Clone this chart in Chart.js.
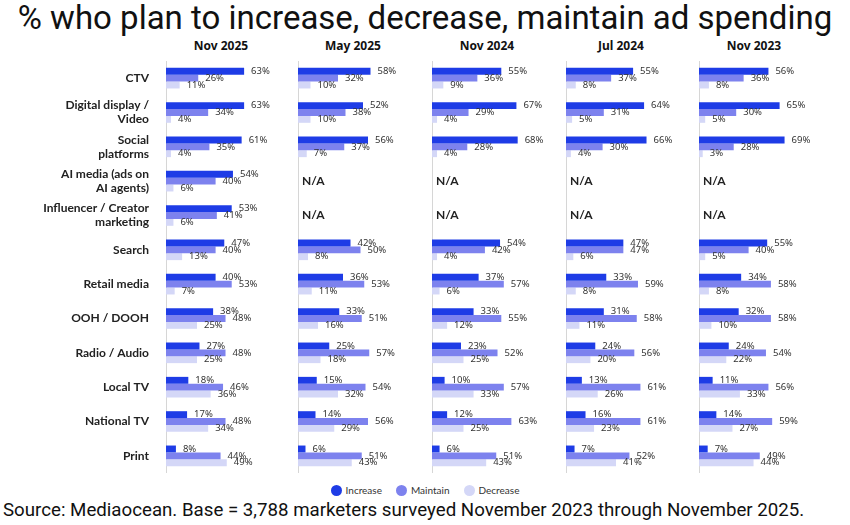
<!DOCTYPE html>
<html>
<head>
<meta charset="utf-8">
<script src="https://cdn.jsdelivr.net/npm/chart.js@4"></script>
<style>
  body { margin: 0; background: #fff; width: 850px; height: 525px; position: relative; overflow: hidden; font-family: 'Noto Sans', sans-serif; }
  #title { position: absolute; left: 0; top: 0px; width: 850px; text-align: center; font-family: Roboto, sans-serif; font-size: 33px; line-height: 36px; color: #111; }
  .head { position: absolute; top: 37px; width: 110px; text-align: center; font-family: 'Noto Sans', sans-serif; font-weight: bold; font-size: 12px; color: #111; }
  canvas { position: absolute; top: 61px; }
  #legend { position: absolute; top: 484px; left: 0; width: 850px; text-align: center; font-family: Lato, sans-serif; font-size: 10px; color: #333; }
  #legend span.item { display: inline-block; margin: 0 7px; }
  #legend i { display: inline-block; width: 11px; height: 11px; border-radius: 50%; vertical-align: -2px; margin-right: 4px; }
  #source { position: absolute; left: 3px; top: 499px; font-family: Roboto, sans-serif; font-size: 18.7px; color: #111; white-space: nowrap; }
</style>
</head>
<body>
<div id="title">% who plan to increase, decrease, maintain ad spending</div>
<div id="heads"></div>
<canvas id="c0"></canvas>
<canvas id="c1"></canvas>
<canvas id="c2"></canvas>
<canvas id="c3"></canvas>
<canvas id="c4"></canvas>
<div id="legend"></div>
<div id="source">Source: Mediaocean. Base = 3,788 marketers surveyed November 2023 through November 2025.</div>
<script>
const categories = [
  'CTV', ['Digital display /', 'Video'], ['Social', 'platforms'], ['AI media (ads on', 'AI agents)'],
  ['Influencer / Creator', 'marketing'], 'Search', 'Retail media', 'OOH / DOOH',
  'Radio / Audio', 'Local TV', 'National TV', 'Print'
];
const periods = ['Nov 2025', 'May 2025', 'Nov 2024', 'Jul 2024', 'Nov 2023'];
const seriesNames = ['Increase', 'Maintain', 'Decrease'];

const increaseNov2025 = [63, 63, 61, 54, 53, 47, 40, 38, 27, 18, 17, 8];
const maintainNov2025 = [26, 34, 35, 40, 41, 40, 53, 48, 48, 46, 48, 44];
const decreaseNov2025 = [11, 4, 4, 6, 6, 13, 7, 25, 25, 36, 34, 49];

const increaseMay2025 = [58, 52, 56, null, null, 42, 36, 33, 25, 15, 14, 6];
const maintainMay2025 = [32, 38, 37, null, null, 50, 53, 51, 57, 54, 56, 51];
const decreaseMay2025 = [10, 10, 7, null, null, 8, 11, 16, 18, 32, 29, 43];

const increaseNov2024 = [55, 67, 68, null, null, 54, 37, 33, 23, 10, 12, 6];
const maintainNov2024 = [36, 29, 28, null, null, 42, 57, 55, 52, 57, 63, 51];
const decreaseNov2024 = [9, 4, 4, null, null, 4, 6, 12, 25, 33, 25, 43];

const increaseJul2024 = [55, 64, 66, null, null, 47, 33, 31, 24, 13, 16, 7];
const maintainJul2024 = [37, 31, 30, null, null, 47, 59, 58, 56, 61, 61, 52];
const decreaseJul2024 = [8, 5, 4, null, null, 6, 8, 11, 20, 26, 23, 41];

const increaseNov2023 = [56, 65, 69, null, null, 55, 34, 32, 24, 11, 14, 7];
const maintainNov2023 = [36, 30, 28, null, null, 40, 58, 58, 54, 56, 59, 49];
const decreaseNov2023 = [8, 5, 3, null, null, 5, 8, 10, 22, 33, 27, 44];

const panelSeries = [
  [increaseNov2025, maintainNov2025, decreaseNov2025],
  [increaseMay2025, maintainMay2025, decreaseMay2025],
  [increaseNov2024, maintainNov2024, decreaseNov2024],
  [increaseJul2024, maintainJul2024, decreaseJul2024],
  [increaseNov2023, maintainNov2023, decreaseNov2023]
];

// layout
const colors = ['#1e3ce6', '#7d82ee', '#d4d7f7'];
const axisX = [166, 298, 432, 566, 699];
const plotW = [124, 125, 126, 122, 124];
const plotH = 412;
const labelW = 166;

// value labels at bar ends, and N/A where a period has no data
const barLabels = {
  id: 'barLabels',
  afterDatasetsDraw(chart) {
    const ctx = chart.ctx;
    ctx.save();
    ctx.font = "9.5px 'Noto Sans'";
    ctx.fillStyle = '#333';
    ctx.textBaseline = 'middle';
    chart.data.datasets.forEach((ds, i) => {
      chart.getDatasetMeta(i).data.forEach((el, j) => {
        if (ds.data[j] == null) return;
        ctx.fillText(ds.data[j] + '%', el.x + 7, el.y);
      });
    });
    ctx.font = "bold 12px Lato";
    ctx.fillStyle = '#222';
    const y = chart.scales.y;
    chart.data.labels.forEach((lab, j) => {
      if (chart.data.datasets.every(ds => ds.data[j] == null)) {
        ctx.fillText('N/A', chart.chartArea.left + 4, y.getPixelForValue(j));
      }
    });
    ctx.restore();
  }
};

periods.forEach((p, k) => {
  const h = document.createElement('div');
  h.className = 'head';
  h.textContent = p;
  h.style.left = axisX[k] + 'px';
  document.getElementById('heads').appendChild(h);

  const first = k === 0;
  const cv = document.getElementById('c' + k);
  const left = first ? 0 : axisX[k];
  const w = first ? labelW + plotW[k] : plotW[k];
  cv.width = w;
  cv.height = plotH;
  cv.style.left = left + 'px';

  new Chart(cv, {
    type: 'bar',
    data: {
      labels: categories,
      datasets: panelSeries[k].map((vals, i) => ({
        label: seriesNames[i],
        data: vals,
        backgroundColor: colors[i],
        borderWidth: 0,
        categoryPercentage: 0.6,
        barPercentage: 1.0
      }))
    },
    options: {
      indexAxis: 'y',
      responsive: false,
      animation: false,
      layout: { padding: 0 },
      plugins: { legend: { display: false }, tooltip: { enabled: false } },
      scales: {
        x: { display: false, min: 0, max: 100 },
        y: {
          grid: { display: false },
          border: { display: true, color: '#d6d6d6', width: 1 },
          ticks: {
            display: first,
            color: '#222',
            padding: 9,
            font: { family: 'Lato', weight: 'bold', size: 12, lineHeight: 1.17 }
          },
          afterFit(scale) {
            scale.width = first ? labelW : 0;
            scale.paddingTop = 0;
            scale.paddingBottom = 0;
          }
        }
      }
    },
    plugins: [barLabels]
  });
});

const legend = document.getElementById('legend');
seriesNames.forEach((n, i) => {
  const s = document.createElement('span');
  s.className = 'item';
  s.innerHTML = '<i style="background:' + colors[i] + '"></i>' + n;
  legend.appendChild(s);
});
</script>
</body>
</html>
